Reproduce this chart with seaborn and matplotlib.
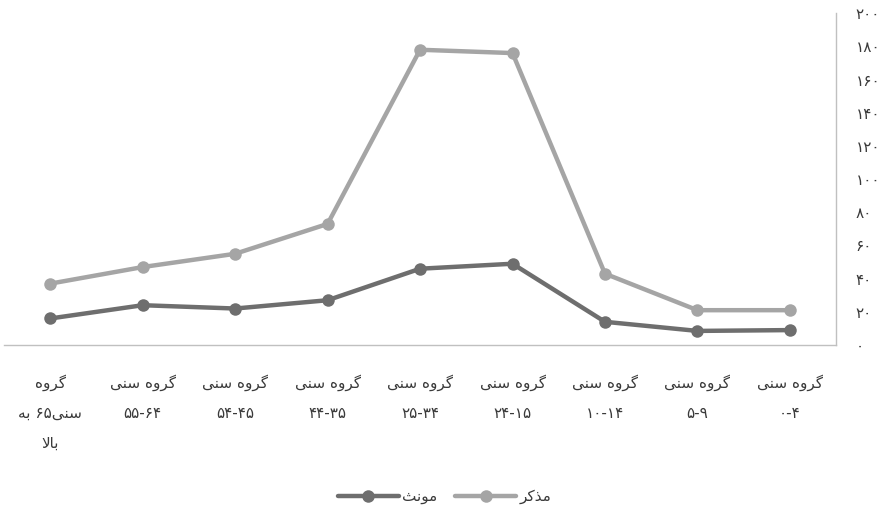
import numpy as np
import pandas as pd
import seaborn as sns
import matplotlib.pyplot as plt
from matplotlib.lines import Line2D

# age groups, youngest first (the axis is drawn right-to-left)
groups = ["گروه سنی\n۰-۴", "گروه سنی\n۵-۹", "گروه سنی\n۱۰-۱۴", "گروه سنی\n۲۴-۱۵",
          "گروه سنی\n۲۵-۳۴", "گروه سنی\n۴۴-۳۵", "گروه سنی\n۵۴-۴۵", "گروه سنی\n۵۵-۶۴",
          "گروه\nسنی۶۵ به\nبالا"]
male = [21, 21, 43, 176, 178, 73, 55, 47, 37]
female = [9, 8.5, 14, 49, 46, 27, 22, 24, 16]
male_label = "مذکر"
female_label = "مونث"
yticks = [0, 20, 40, 60, 80, 100, 120, 140, 160, 180, 200]

# --- minimal arabic shaping + visual ordering (matplotlib does no shaping) ---
# iso, fin, ini, med
FORMS = {
    'ا': ('\uFE8D', '\uFE8E', None, None),
    'ب': ('\uFE8F', '\uFE90', '\uFE91', '\uFE92'),
    'ث': ('\uFE99', '\uFE9A', '\uFE9B', '\uFE9C'),
    'ذ': ('\uFEAB', '\uFEAC', None, None),
    'ر': ('\uFEAD', '\uFEAE', None, None),
    'س': ('\uFEB1', '\uFEB2', '\uFEB3', '\uFEB4'),
    'ل': ('\uFEDD', '\uFEDE', '\uFEDF', '\uFEE0'),
    'م': ('\uFEE1', '\uFEE2', '\uFEE3', '\uFEE4'),
    'ن': ('\uFEE5', '\uFEE6', '\uFEE7', '\uFEE8'),
    'ه': ('\uFEE9', '\uFEEA', '\uFEEB', '\uFEEC'),
    'و': ('\uFEED', '\uFEEE', None, None),
    'ک': ('\uFB8E', '\uFB8F', '\uFB90', '\uFB91'),
    'گ': ('\uFB92', '\uFB93', '\uFB94', '\uFB95'),
    'ی': ('\uFBFC', '\uFBFD', '\uFBFE', '\uFBFF'),
}


def dual(c):
    return c in FORMS and FORMS[c][2] is not None


def shape(word):
    out = []
    i = 0
    while i < len(word):
        c = word[i]
        if c not in FORMS:
            out.append(c)
            i += 1
            continue
        prev = word[i - 1] if i > 0 else ''
        nxt = word[i + 1] if i + 1 < len(word) else ''
        cp = dual(prev)
        if c == 'ل' and nxt == 'ا':
            out.append('\uFEFC' if cp else '\uFEFB')
            i += 2
            continue
        cn = dual(c) and nxt in FORMS
        f = FORMS[c]
        if cp and cn:
            out.append(f[3])
        elif cp:
            out.append(f[1])
        elif cn:
            out.append(f[2])
        else:
            out.append(f[0])
        i += 1
    return ''.join(out)


def fa_line(s):
    runs = []
    for ch in s:
        kind = ch in FORMS or ch == ' '
        if runs and runs[-1][0] == kind:
            runs[-1][1] += ch
        else:
            runs.append([kind, ch])
    parts = [shape(t)[::-1] if k else t for k, t in runs]
    return ''.join(parts[::-1])


def fa(s):
    return '\n'.join(fa_line(l) for l in s.split('\n'))


def fa_num(n):
    return ''.join('۰۱۲۳۴۵۶۷۸۹'[int(d)] for d in str(n))


labels = [fa(g) for g in groups]
df = pd.DataFrame({
    "group": labels * 2,
    "value": male + female,
    "sex": [male_label] * len(labels) + [female_label] * len(labels),
})

sns.set_style("white")
plt.rcParams['font.family'] = ['DejaVu Sans']

male_c = "#a5a5a5"
female_c = "#6e6e6e"
text_c = "#3a3a3a"

fig = plt.figure(figsize=(8.89, 5.2), dpi=100)
ax = fig.add_axes([0.0045, 0.3365, 0.936, 0.638])

sns.lineplot(data=df, x="group", y="value", hue="sex",
             hue_order=[female_label, male_label],
             palette={male_label: male_c, female_label: female_c},
             marker="o", markersize=9, markeredgewidth=0, linewidth=3.2,
             sort=False, legend=False, ax=ax)

ax.set_xlim(-0.5, len(labels) - 0.5)
ax.invert_xaxis()
ax.set_ylim(0, 200)
ax.set_yticks(yticks)
ax.set_yticklabels([fa_num(v) for v in yticks])
ax.yaxis.tick_right()
ax.set_xlabel("")
ax.set_ylabel("")

for side in ["top", "left"]:
    ax.spines[side].set_visible(False)
for side in ["right", "bottom"]:
    ax.spines[side].set_color("#c0c0c0")
    ax.spines[side].set_linewidth(1)

ax.tick_params(axis="x", length=0, pad=21, labelsize=11, labelcolor=text_c)
ax.tick_params(axis="y", length=0, pad=14, labelsize=11, labelcolor=text_c)
for t in ax.get_xticklabels():
    t.set_linespacing(2.25)
    t.set_verticalalignment("top")
    t.set_horizontalalignment("center")

handles = [
    Line2D([], [], color=female_c, marker="o", markersize=9, markeredgewidth=0, linewidth=3.2),
    Line2D([], [], color=male_c, marker="o", markersize=9, markeredgewidth=0, linewidth=3.2),
]
fig.legend(handles, [fa(female_label), fa(male_label)], loc="center",
           bbox_to_anchor=(0.5, 0.045), ncol=2, frameon=False,
           handlelength=4, handletextpad=0.2, columnspacing=1.2,
           fontsize=11, labelcolor=text_c)

fig.savefig("out.png", dpi=100)
